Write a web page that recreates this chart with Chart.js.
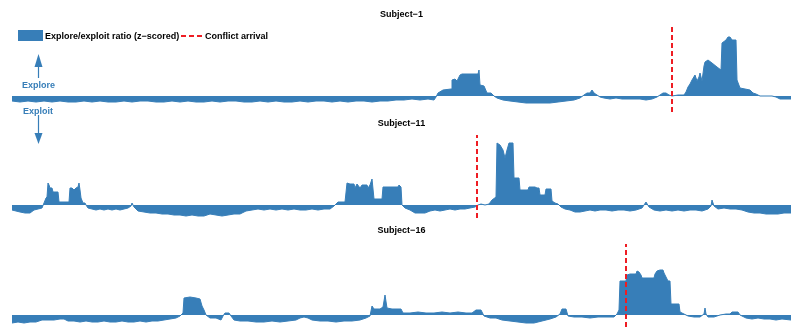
<!DOCTYPE html>
<html>
<head>
<meta charset="utf-8">
<script src="https://cdn.jsdelivr.net/npm/chart.js@4.4.1/dist/chart.umd.min.js"></script>
<style>
  body { margin: 0; background: #fff; }
  #wrap { position: relative; width: 791px; height: 327px; overflow: hidden; font-family: "Liberation Sans", Arial, sans-serif; }
  canvas { position: absolute; left: 0; }
  .lbl { position: absolute; font-size: 9px; font-weight: bold; line-height: 12px; white-space: nowrap; }
</style>
</head>
<body>
<div id="wrap">
  <canvas id="c1" width="791" height="115" style="top:0"></canvas>
  <canvas id="c2" width="791" height="105" style="top:115px"></canvas>
  <canvas id="c3" width="791" height="107" style="top:220px"></canvas>

  <!-- legende -->
  <div style="position:absolute;left:18px;top:30px;width:25px;height:11px;background:#377EB8"></div>
  <div class="lbl" style="left:45px;top:30px;color:#000">Explore/exploit ratio (z−scored)</div>
  <svg style="position:absolute;left:180px;top:30px" width="25" height="12">
    <line x1="1" y1="6" x2="24" y2="6" stroke="#EE1D23" stroke-width="2" stroke-dasharray="5,3"/>
  </svg>
  <div class="lbl" style="left:205px;top:30px;color:#000">Conflict arrival</div>

  <!-- setas explore / exploit -->
  <svg style="position:absolute;left:30px;top:50px" width="18" height="100">
    <line x1="8.5" y1="16" x2="8.5" y2="28" stroke="#377EB8" stroke-width="1.2"/>
    <polygon points="8.5,4 4.5,17 12.5,17" fill="#377EB8"/>
    <line x1="8.5" y1="65" x2="8.5" y2="84" stroke="#377EB8" stroke-width="1.2"/>
    <polygon points="8.5,94 4.5,83 12.5,83" fill="#377EB8"/>
  </svg>
  <div class="lbl" style="left:22px;top:79px;color:#377EB8">Explore</div>
  <div class="lbl" style="left:23px;top:105px;color:#377EB8">Exploit</div>
</div>

<script>
// ================= DADOS =================
// tempo (indice) e razao explore/exploit z-scored
const nomes = ["Subject−1", "Subject−11", "Subject−16"]
const conflito = [672, 477, 626]   // chegada do conflito (mesmo eixo do tempo)

const t1 = [12,20,28,36,44,52,60,68,76,84,92,100,108,116,124,132,140,148,156,164,172,180,188,196,204,212,220,228,236,244,252,260,268,276,284,292,300,308,316,324,332,340,348,356,364,372,380,388,396,404,412,420,428,434,436,438,443,451,452,455,457,459,460,462,470,478,479,480,484,487,491,494,497,503,510,518,526,534,542,550,558,566,574,580,584,587,590,592,594,597,600,604,610,616,622,628,634,640,646,652,657,660,663,666,669,672,678,684,686,688,690,692,695,697,699,700,702,704,705,708,712,717,721,722,726,728,730,732,736,737,740,745,750,753,756,760,766,772,776,780,786,791]
const v1 = [-0.5,-0.6,-0.5,-0.6,-0.5,-0.6,-0.5,-0.6,-0.6,-0.5,-0.6,-0.5,-0.6,-0.6,-0.5,-0.6,-0.5,-0.5,-0.6,-0.6,-0.5,-0.6,-0.5,-0.6,-0.6,-0.5,-0.6,-0.5,-0.5,-0.6,-0.6,-0.5,-0.6,-0.5,-0.6,-0.6,-0.5,-0.6,-0.5,-0.5,-0.6,-0.5,-0.6,-0.5,-0.5,-0.6,-0.5,-0.5,-0.4,-0.4,-0.3,-0.4,-0.3,-0.4,-0.1,0.3,0.6,0.7,1.6,1.7,1.5,1.9,2.1,2.2,2.2,2.2,2.6,1.1,1.0,0.3,0.3,0.0,-0.2,-0.4,-0.5,-0.6,-0.7,-0.7,-0.7,-0.7,-0.6,-0.5,-0.4,-0.2,0.1,0.3,0.3,0.6,0.3,0.1,-0.1,-0.2,-0.3,-0.2,-0.3,-0.3,-0.3,-0.3,-0.4,-0.3,-0.1,0.1,0.3,0.3,0.1,0.0,0.1,0.1,0.4,0.9,1.2,1.6,2.1,1.5,1.9,2.3,1.5,3.0,3.4,3.6,3.3,2.9,2.6,5.3,5.6,5.9,5.9,5.6,5.6,1.6,0.8,0.7,0.6,0.3,0.2,0.0,0.0,0.0,-0.1,-0.3,-0.3,-0.3]

const t2 = [12,16,20,25,30,34,38,42,44,46,47,48,49,50,52,53,58,59,69,70,72,74,76,78,79,80,81,83,85,86,88,92,96,100,104,108,112,116,120,124,128,131,132,134,138,144,150,156,162,168,174,180,186,192,198,204,210,216,222,228,234,240,246,252,258,264,270,276,282,288,294,300,306,312,318,324,330,334,336,338,345,347,350,354,355,357,360,362,367,368,370,372,374,382,383,398,399,401,402,405,410,415,420,425,430,435,440,445,450,455,460,465,470,475,478,481,485,489,492,496,497,500,503,505,507,509,513,514,519,520,528,529,535,537,539,540,545,546,551,552,555,558,561,565,570,575,580,585,590,595,600,606,612,618,624,630,636,642,646,649,654,660,666,672,678,684,690,696,702,708,711,712,714,718,724,730,736,742,748,754,760,766,772,778,784,791]
const v2 = [-0.5,-0.6,-0.7,-0.8,-0.8,-0.5,-0.4,-0.3,0.2,0.7,0.8,2.2,2.0,1.7,1.7,1.3,1.3,0.3,0.3,1.7,1.7,1.5,1.7,1.8,2.2,1.5,0.7,0.2,0.2,0.0,-0.3,-0.4,-0.5,-0.4,-0.5,-0.4,-0.5,-0.4,-0.5,-0.4,-0.3,-0.1,0.2,-0.2,-0.6,-0.7,-0.8,-0.8,-0.9,-0.9,-1.0,-1.0,-1.1,-1.0,-1.1,-1.1,-0.9,-1.0,-1.1,-1.0,-0.9,-0.9,-0.6,-0.5,-0.4,-0.5,-0.4,-0.5,-0.4,-0.5,-0.4,-0.5,-0.5,-0.4,-0.5,-0.4,-0.4,-0.1,0.1,0.3,0.3,2.2,2.1,2.1,1.7,2.1,1.7,2.0,2.0,1.7,2.0,2.6,0.6,0.6,1.8,1.8,2.0,1.8,0.0,-0.3,-0.5,-0.8,-0.8,-0.8,-0.6,-0.5,-0.6,-0.5,-0.4,-0.5,-0.4,-0.4,-0.3,-0.2,0.0,0.1,0.0,0.1,0.5,0.8,6.2,6.0,5.5,4.7,5.5,6.2,6.2,2.7,2.7,1.5,1.5,1.8,1.8,1.7,1.7,1.0,1.0,1.6,1.6,0.4,0.2,0.1,-0.2,-0.4,-0.5,-0.7,-0.7,-0.6,-0.5,-0.6,-0.5,-0.5,-0.6,-0.5,-0.5,-0.6,-0.5,-0.3,0.3,-0.2,-0.5,-0.6,-0.5,-0.6,-0.5,-0.6,-0.5,-0.5,-0.6,-0.4,-0.1,0.5,-0.1,-0.4,-0.3,-0.4,-0.4,-0.5,-0.7,-0.8,-0.8,-0.9,-0.9,-0.9,-0.8,-0.8]

const t3 = [12,18,24,30,36,42,48,54,60,64,68,74,80,86,92,98,104,110,116,122,128,134,140,146,152,158,164,170,176,180,183,184,190,196,200,202,204,206,210,216,221,223,225,229,231,234,240,248,256,264,272,280,288,296,300,304,308,312,320,328,336,344,352,360,366,370,372,374,380,383,385,387,392,398,401,403,410,418,426,434,442,450,458,466,472,476,481,484,490,496,502,510,518,526,534,542,550,556,560,562,566,568,574,582,590,598,606,614,617,619,620,626,627,630,636,637,639,641,642,650,654,655,657,660,663,664,666,668,670,671,679,680,684,688,694,700,704,705,706,708,714,720,726,730,732,738,740,746,752,758,764,770,776,782,791]
const v3 = [-0.8,-0.7,-0.8,-0.7,-0.7,-0.5,-0.5,-0.5,-0.4,-0.4,-0.6,-0.6,-0.7,-0.6,-0.7,-0.7,-0.6,-0.7,-0.7,-0.6,-0.7,-0.7,-0.6,-0.7,-0.6,-0.6,-0.5,-0.4,-0.3,-0.1,0.2,1.7,1.8,1.7,1.6,0.9,0.5,0.0,-0.3,-0.3,-0.5,-0.1,0.2,0.2,-0.1,-0.5,-0.6,-0.6,-0.7,-0.7,-0.6,-0.7,-0.6,-0.5,-0.3,-0.2,-0.3,-0.5,-0.6,-0.6,-0.7,-0.6,-0.6,-0.5,-0.3,-0.1,0.9,0.6,0.6,0.8,2.0,0.7,0.6,0.6,0.6,0.2,0.2,0.3,0.2,0.2,0.3,0.2,0.3,0.2,0.2,0.5,0.5,-0.1,-0.3,-0.3,-0.5,-0.6,-0.7,-0.8,-0.8,-0.6,-0.4,-0.2,0.1,0.6,0.6,-0.1,-0.2,-0.2,-0.3,-0.2,-0.2,-0.2,0.1,0.5,3.4,3.4,4.0,4.1,4.1,4.4,4.3,4.0,3.7,3.7,3.7,4.1,4.4,4.5,4.5,4.2,3.8,3.4,3.4,1.1,1.1,0.3,0.1,-0.1,-0.2,-0.2,0.1,0.7,0.1,-0.2,-0.2,0.0,0.1,0.1,0.3,0.3,0.0,-0.3,-0.4,-0.3,-0.4,-0.4,-0.5,-0.4,-0.5]

const tempos = [t1, t2, t3]
const valores = [v1, v2, v3]
// limites do eixo y de cada painel
const yMin = [-1.6, -1.3, -1.2]
const yMax = [6.9, 7.0, 7.1]

// ================= LAYOUT DE CADA PAINEL =================
const tituloPad = [{top: 9, bottom: 6}, {top: 3, bottom: 5}, {top: 5, bottom: 7}]
const fundoPad = [3, 2, 0]

const azul = '#377EB8'
const vermelho = '#EE1D23'

for (let i = 0; i < 3; i++) {
    const ctx = document.getElementById('c' + (i + 1)).getContext('2d')
    const area = tempos[i].map((t, k) => ({x: t, y: valores[i][k]}))
    new Chart(ctx, {
        type: 'line',
        data: {
            datasets: [
                { // linha tracejada do conflito (por cima)
                    data: [{x: conflito[i], y: yMin[i]}, {x: conflito[i], y: yMax[i]}],
                    borderColor: vermelho,
                    borderWidth: 2,
                    borderDash: [5, 3],
                    pointRadius: 0,
                    fill: false,
                    order: 0
                },
                { // razao explore/exploit
                    data: area,
                    borderColor: azul,
                    backgroundColor: azul,
                    borderWidth: 1,
                    pointRadius: 0,
                    tension: 0,
                    fill: 'origin',
                    order: 1
                }
            ]
        },
        options: {
            responsive: false,
            animation: false,
            events: [],
            layout: { padding: { left: 12, right: 0, top: 0, bottom: fundoPad[i] } },
            scales: {
                x: { type: 'linear', min: 12, max: 791, display: false },
                y: { min: yMin[i], max: yMax[i], display: false }
            },
            plugins: {
                legend: { display: false },
                tooltip: { enabled: false },
                title: {
                    display: true,
                    text: nomes[i],
                    color: '#000',
                    font: { family: '"Liberation Sans", Arial, sans-serif', size: 9, weight: 'bold', lineHeight: '12px' },
                    padding: tituloPad[i]
                }
            }
        }
    })
}
</script>
</body>
</html>
